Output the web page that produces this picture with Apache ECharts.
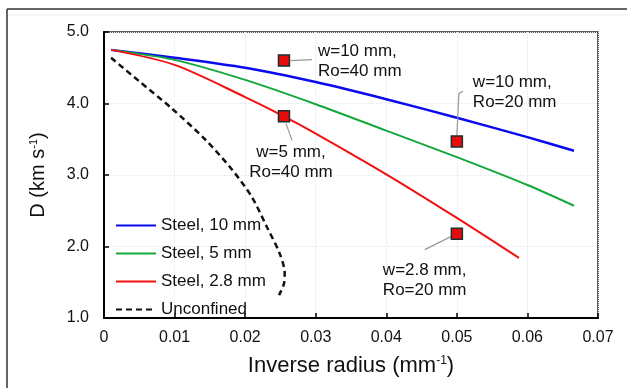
<!DOCTYPE html>
<html>
<head>
<meta charset="UTF-8">
<script src="https://cdn.jsdelivr.net/npm/echarts@6.0.0/dist/echarts.min.js"></script>
<style>
  html, body { margin: 0; padding: 0; background: #fff; }
  #chart { width: 627px; height: 388px; }
</style>
</head>
<body>
<div id="chart"></div>
<script>
// inverse radius (1/mm) against detonation velocity D (km/s)
const steel10X = [0.001, 0.01, 0.02, 0.03, 0.04, 0.05, 0.06, 0.0666];
const steel10D = [4.75, 4.64, 4.50, 4.30, 4.06, 3.80, 3.53, 3.34];
const steel5X = [0.001, 0.01, 0.02, 0.03, 0.04, 0.05, 0.06, 0.0666];
const steel5D = [4.75, 4.61, 4.33, 3.99, 3.62, 3.25, 2.86, 2.57];
const steel28X = [0.001, 0.01, 0.02, 0.0255, 0.03, 0.04, 0.05, 0.0588];
const steel28D = [4.75, 4.54, 4.09, 3.82, 3.58, 3.01, 2.40, 1.84];
const unconfX = [0.001, 0.005, 0.0095, 0.0143, 0.0181, 0.0209, 0.0231, 0.0249, 0.0256, 0.0255, 0.0248];
const unconfD = [4.64, 4.31, 3.94, 3.50, 3.08, 2.70, 2.27, 1.90, 1.63, 1.48, 1.32];

// experimental points
const expX = [0.0255, 0.0255, 0.05, 0.05];
const expD = [4.60, 3.82, 3.47, 2.18];
const expLabels = ['w=10 mm,\nRo=40 mm', 'w=5 mm,\nRo=40 mm', 'w=10 mm,\nRo=20 mm', 'w=2.8 mm,\nRo=20 mm'];

const seriesNames = ['Steel, 10 mm', 'Steel, 5 mm', 'Steel, 2.8 mm', 'Unconfined'];

const FONT = '"Liberation Sans", Arial, sans-serif';

const pairs = (xs, ys) => xs.map((x, i) => [x, ys[i]]);

const chart = echarts.init(document.getElementById('chart'));

const lineSeries = (name, xs, ys, color, width, type) => ({
    name: name,
    type: 'line',
    data: pairs(xs, ys),
    symbol: 'none',
    smooth: 0.3,
    lineStyle: { color: color, width: width, type: type || 'solid' },
    itemStyle: { color: color },
    z: 3
});

chart.setOption({
    animation: false,
    grid: {
        left: 104, top: 32, right: 29, bottom: 70,
        show: true, borderColor: '#2a2a2a', borderWidth: 1.5
    },
    legend: {
        data: seriesNames,
        orient: 'vertical',
        left: 115, top: 217,
        padding: 0,
        itemWidth: 40, itemHeight: 14, itemGap: 11,
        itemStyle: { opacity: 0 },
        textStyle: { fontFamily: FONT, fontSize: 17, color: '#111' }
    },
    xAxis: {
        type: 'value', min: 0, max: 0.07, interval: 0.01,
        name: 'Inverse radius (mm{s|-1})',
        nameLocation: 'middle', nameGap: 37,
        nameTextStyle: {
            fontFamily: FONT, fontSize: 22, color: '#111',
            rich: { s: { fontFamily: FONT, fontSize: 12, verticalAlign: 'top', color: '#111' } }
        },
        axisLine: { lineStyle: { color: '#000', width: 2 } },
        axisTick: { inside: true, length: 5, lineStyle: { color: '#000', width: 1.5 } },
        axisLabel: {
            fontFamily: FONT, fontSize: 16, color: '#111', margin: 12,
            formatter: v => v === 0 ? '0' : v.toFixed(2)
        },
        splitLine: { show: true, lineStyle: { color: '#dce8f4', type: 'dotted', width: 1 } }
    },
    yAxis: {
        type: 'value', min: 1, max: 5, interval: 1,
        name: 'D (km s{s|-1})',
        nameLocation: 'middle', nameGap: 56, nameRotate: 90,
        nameTextStyle: {
            fontFamily: FONT, fontSize: 20, color: '#111',
            rich: { s: { fontFamily: FONT, fontSize: 11, verticalAlign: 'top', color: '#111' } }
        },
        axisLine: { show: true, lineStyle: { color: '#000', width: 2 } },
        axisTick: { show: true, inside: true, length: 5, lineStyle: { color: '#000', width: 1.5 } },
        axisLabel: {
            fontFamily: FONT, fontSize: 16, color: '#111', margin: 15,
            formatter: v => v.toFixed(1)
        },
        splitLine: { show: true, lineStyle: { color: '#dce8f4', type: 'dotted', width: 1 } }
    },
    series: [
        lineSeries(seriesNames[0], steel10X, steel10D, '#0a0af0', 2.5),
        lineSeries(seriesNames[1], steel5X, steel5D, '#14a83c', 2),
        lineSeries(seriesNames[2], steel28X, steel28D, '#f01010', 2),
        lineSeries(seriesNames[3], unconfX, unconfD, '#111', 2.5, [6, 4]),
        {
            name: 'Experiment',
            type: 'scatter',
            data: pairs(expX, expD),
            symbol: 'rect',
            symbolSize: 11,
            itemStyle: { color: '#e80c0c', borderColor: '#1d2d2d', borderWidth: 1.5, opacity: 1 },
            z: 5
        }
    ]
});

// leader lines and labels, placed relative to each experimental point
const annoLayout = [
    { line: [[7, 0], [28, -1]], text: [34, -19], align: 'left' },
    { line: [[2, 7], [8, 24]], text: [7, 26], align: 'center' },
    { line: [[0, -6], [2, -48], [6, -50]], text: [16, -69], align: 'left' },
    { line: [[-6, 3], [-32, 16]], text: [-74, 27], align: 'left' }
];

const elements = [
    // outer picture frame
    { type: 'line', shape: { x1: 7, y1: 9, x2: 7, y2: 388 }, style: { stroke: '#333', lineWidth: 1.5 } },
    { type: 'line', shape: { x1: 7, y1: 9, x2: 627, y2: 9 }, style: { stroke: '#333', lineWidth: 1.5 } },
    { type: 'line', shape: { x1: 8, y1: 15, x2: 627, y2: 15 }, style: { stroke: '#f2f2f2', lineWidth: 1 } }
];

expX.forEach((x, i) => {
    const p = chart.convertToPixel({ gridIndex: 0 }, [x, expD[i]]);
    const lay = annoLayout[i];
    elements.push({
        type: 'polyline',
        shape: { points: lay.line.map(o => [p[0] + o[0], p[1] + o[1]]) },
        style: { stroke: '#999', lineWidth: 1.2, fill: null },
        z: 4
    });
    elements.push({
        type: 'text',
        x: p[0] + lay.text[0],
        y: p[1] + lay.text[1],
        style: {
            text: expLabels[i],
            font: '17px ' + FONT,
            fill: '#111',
            textAlign: lay.align,
            textVerticalAlign: 'top',
            lineHeight: 20
        },
        z: 4
    });
});

chart.setOption({ graphic: { elements: elements } });
</script>
</body>
</html>
